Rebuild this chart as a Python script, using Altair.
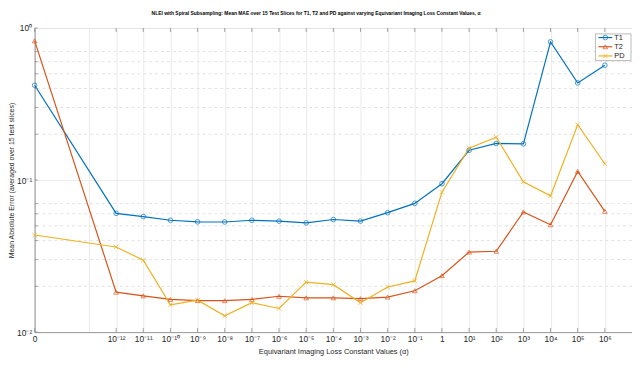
import altair as alt
import pandas as pd

# ---- data ----
series_names = ["T1", "T2", "PD"]
series_colors = ["#0072BD", "#D95319", "#EDB120"]
series_shapes = ["circle", "triangle-up", "M-1,-1L1,1M-1,1L1,-1"]

x_labels = ["0", "10⁻¹²", "10⁻¹¹", "10⁻¹⁰", "10⁻⁹", "10⁻⁸", "10⁻⁷", "10⁻⁶", "10⁻⁵",
            "10⁻⁴", "10⁻³", "10⁻²", "10⁻¹", "1", "10¹", "10²", "10³", "10⁴", "10⁵", "10⁶"]
x_positions = [-3, 0, 1, 2, 3, 4, 5, 6, 7, 8, 9, 10, 11, 12, 13, 14, 15, 16, 17, 18]
x_extra_grid = [-1]

t1 = [0.42, 0.0604, 0.0575, 0.0544, 0.0531, 0.0530, 0.0544, 0.0537, 0.0523, 0.0550,
      0.0537, 0.0610, 0.0702, 0.0946, 0.157, 0.174, 0.173, 0.811, 0.435, 0.569]
t2 = [0.823, 0.0183, 0.0173, 0.0164, 0.0161, 0.0161, 0.0164, 0.0172, 0.0168, 0.0168,
      0.0166, 0.0170, 0.0187, 0.0235, 0.0336, 0.0340, 0.0617, 0.0508, 0.114, 0.0623]
pd_vals = [0.0435, 0.0363, 0.0297, 0.0151, 0.0162, 0.0128, 0.0156, 0.0143, 0.0213, 0.0205,
           0.0156, 0.0198, 0.0217, 0.0832, 0.162, 0.191, 0.0975, 0.0787, 0.231, 0.128]

y_tick_values = [0.01, 0.1, 1]
y_tick_labels = ["10⁻²", "10⁻¹", "10⁰"]
y_minor_values = [0.02, 0.03, 0.04, 0.05, 0.06, 0.07, 0.2, 0.3, 0.4, 0.5, 0.6, 0.7]

title_text = ("NLEI with Spiral Subsampling: Mean MAE over 15 Test Slices for T1, T2 and PD "
              "against varying Equivariant Imaging Loss Constant Values, α")
x_title = "Equivariant Imaging Loss Constant Values (α)"
y_title = "Mean Absolute Error (averaged over 15 test slices)"

# ---- tables ----
rows = []
for name, vals in zip(series_names, [t1, t2, pd_vals]):
    for xp, v in zip(x_positions, vals):
        rows.append({"series": name, "x": xp, "v": v})
df = pd.DataFrame(rows)

W, H = 605, 308
FONT = "Liberation Sans"

x_expr = "''"
for pos, lab in reversed(list(zip(x_positions, x_labels))):
    x_expr = f"datum.value == {pos} ? '{lab}' : ({x_expr})"
y_expr = "''"
for val, lab in reversed(list(zip(y_tick_values, y_tick_labels))):
    y_expr = f"abs(datum.value - {val}) < {val} * 0.001 ? '{lab}' : ({y_expr})"

xscale = alt.Scale(domain=[-3, 19], nice=False, zero=False)
yscale = alt.Scale(type="log", domain=[0.01, 1], nice=False)

x_axis = alt.Axis(
    values=sorted(x_positions + x_extra_grid), labelExpr=x_expr, title=x_title,
    grid=True, gridColor="#e6e6e6", gridWidth=0.8, ticks=False,
    domainColor="#999999", labelFont=FONT, labelFontSize=8.5, labelColor="#262626",
    labelPadding=3, labelFlush=False, labelOverlap=False,
    titleFont=FONT, titleFontSize=7.5, titleFontWeight="normal", titleColor="#262626",
    titleY=16, titleBaseline="top")
y_axis = alt.Axis(
    values=y_tick_values, labelExpr=y_expr, title=y_title,
    grid=True, gridColor="#e6e6e6", gridWidth=0.8, ticks=False,
    domainColor="#999999", labelFont=FONT, labelFontSize=8.5, labelColor="#262626",
    labelPadding=3, labelFlush=False, labelOverlap=False,
    titleFont=FONT, titleFontSize=7, titleFontWeight="normal", titleColor="#262626",
    titleX=-23, titleBaseline="middle")

color = alt.Color("series:N", scale=alt.Scale(domain=series_names, range=series_colors), legend=None)
shape = alt.Shape("series:N", scale=alt.Scale(domain=series_names, range=series_shapes), legend=None)

minor = alt.Chart(pd.DataFrame({"v": y_minor_values})).mark_rule(
    color="#dcdcdc", strokeWidth=0.8, strokeDash=[3, 3]
).encode(y=alt.Y("v:Q", scale=yscale, axis=y_axis))

lines = alt.Chart(df).mark_line(strokeWidth=1.2).encode(
    x=alt.X("x:Q", scale=xscale, axis=x_axis),
    y=alt.Y("v:Q", scale=yscale, axis=y_axis),
    color=color,
    detail="series:N",
    order="x:Q",
)

points = alt.Chart(df).mark_point(filled=False, size=22, strokeWidth=1).encode(
    x=alt.X("x:Q", scale=xscale, axis=x_axis),
    y=alt.Y("v:Q", scale=yscale, axis=y_axis),
    color=color,
    shape=shape,
)

tick_df = pd.DataFrame({"x": x_positions})
ticks_bottom = alt.Chart(tick_df).mark_rule(color="#888888", strokeWidth=0.8).encode(
    x=alt.X("x:Q", scale=xscale, axis=x_axis), y=alt.value(H), y2=alt.value(H - 4))
ticks_top = alt.Chart(tick_df).mark_rule(color="#888888", strokeWidth=0.8).encode(
    x=alt.X("x:Q", scale=xscale, axis=x_axis), y=alt.value(0), y2=alt.value(4))
ytick_df = pd.DataFrame({"v": y_tick_values + y_minor_values})
ticks_left = alt.Chart(ytick_df).mark_rule(color="#888888", strokeWidth=0.8).encode(
    y=alt.Y("v:Q", scale=yscale, axis=y_axis), x=alt.value(0), x2=alt.value(3))

one = pd.DataFrame({"a": [0]})
legend_layers = [
    alt.Chart(one).mark_rect(fill="white", stroke="#aaaaaa", strokeWidth=0.8).encode(
        x=alt.value(568), x2=alt.value(604), y=alt.value(6), y2=alt.value(33))
]
legend_y = [9.7, 19.0, 28.3]
for name, col, shp, ly in zip(series_names, series_colors, series_shapes, legend_y):
    legend_layers.append(alt.Chart(one).mark_rule(color=col, strokeWidth=1.2).encode(
        x=alt.value(571), x2=alt.value(585), y=alt.value(ly)))
    legend_layers.append(alt.Chart(one).mark_point(filled=False, size=22, strokeWidth=1, color=col, shape=shp).encode(
        x=alt.value(578), y=alt.value(ly)))
    legend_layers.append(alt.Chart(one).mark_text(align="left", baseline="middle", font=FONT,
                                                  fontSize=7.5, color="#262626", text=name).encode(
        x=alt.value(587), y=alt.value(ly)))

title = alt.Chart(one).mark_text(align="center", baseline="top", font=FONT, fontSize=5.0,
                                 fontWeight="bold", color="#000000", text=title_text).encode(
    x=alt.value(285), y=alt.value(-17))

chart = alt.layer(
    minor, lines, points, ticks_bottom, ticks_top, ticks_left, *legend_layers, title
).properties(
    width=W, height=H,
    padding={"left": 27, "top": 18, "right": 0, "bottom": 25},
    autosize=alt.AutoSizeParams(type="none"),
).configure_view(stroke="#999999", strokeWidth=1).configure_axis(
    labelOverlap=False
).configure(background="white")

chart.save("out.html", embed_options={"renderer": "svg", "actions": False})
